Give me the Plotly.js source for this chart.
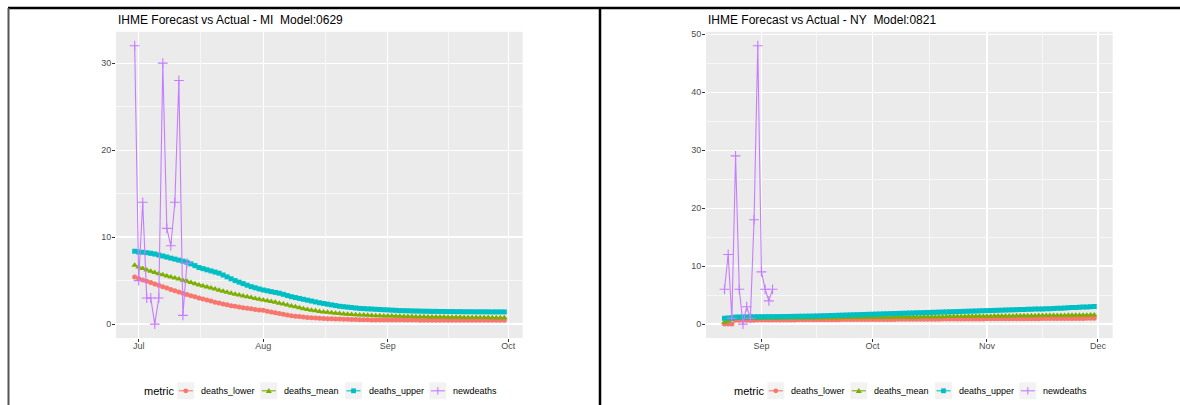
<!DOCTYPE html>
<html><head><meta charset="utf-8">
<script src="https://cdn.plot.ly/plotly-3.0.1.min.js"></script>
<style>html,body{margin:0;padding:0;background:#fff;}#chart{width:1180px;height:405px;}</style>
</head><body><div id="chart"></div>
<script>
// ---------- data ----------
const seriesNames = ['deaths_lower', 'deaths_mean', 'deaths_upper', 'newdeaths'];
const seriesColors = ['#F8766D', '#7CAE00', '#00BFC4', '#C77CFF'];
const legendTitle = 'metric';

// Michigan, model 0629 (forecast from 2020-06-30 to 2020-09-30)
const miTitle = 'IHME Forecast vs Actual - MI\u00A0\u00A0Model:0629';
const miForecastStart = '2020-06-30';
const miLower = [5.40,
  5.24,5.08,4.93,4.78,4.62,4.46,4.30,4.14,3.98,3.83,3.68,3.54,3.40,3.27,3.14,3.01,2.88,2.76,2.64,2.52,2.41,2.30,2.21,2.12,2.04,1.96,1.89,1.82,1.75,1.68,1.63,
  1.58,1.48,1.39,1.30,1.21,1.12,1.04,0.97,0.91,0.86,0.81,0.77,0.73,0.69,0.66,0.64,0.62,0.60,0.59,0.58,0.56,0.55,0.53,0.52,0.51,0.50,0.49,0.48,0.48,0.47,0.47,
  0.47,0.47,0.46,0.46,0.46,0.46,0.46,0.46,0.45,0.45,0.45,0.45,0.45,0.45,0.45,0.45,0.45,0.44,0.44,0.44,0.44,0.44,0.44,0.44,0.44,0.44,0.44,0.44,0.44,0.44];
const miMean = [6.75,
  6.55,6.38,6.22,6.06,5.92,5.79,5.66,5.54,5.42,5.30,5.17,5.05,4.92,4.78,4.64,4.50,4.38,4.26,4.14,4.03,3.90,3.77,3.65,3.54,3.44,3.34,3.24,3.14,3.05,2.95,2.86,
  2.77,2.68,2.59,2.50,2.40,2.30,2.20,2.09,1.98,1.87,1.77,1.68,1.60,1.52,1.45,1.40,1.35,1.30,1.25,1.21,1.17,1.14,1.11,1.08,1.05,1.03,1.01,0.99,0.97,0.96,0.94,
  0.93,0.92,0.90,0.89,0.88,0.87,0.86,0.85,0.84,0.83,0.82,0.81,0.81,0.80,0.80,0.79,0.79,0.78,0.78,0.77,0.77,0.76,0.76,0.75,0.75,0.75,0.74,0.74,0.73,0.73];
const miUpper = [8.36,
  8.30,8.27,8.21,8.13,8.05,7.94,7.82,7.70,7.58,7.47,7.35,7.23,7.10,6.92,6.72,6.50,6.37,6.24,6.11,5.98,5.85,5.64,5.43,5.21,5.00,4.82,4.65,4.47,4.30,4.17,4.04,
  3.92,3.83,3.73,3.64,3.55,3.42,3.28,3.15,3.05,2.95,2.85,2.75,2.65,2.55,2.45,2.37,2.29,2.21,2.13,2.05,2.00,1.95,1.90,1.85,1.80,1.78,1.75,1.73,1.70,1.68,1.65,
  1.63,1.60,1.58,1.55,1.54,1.53,1.51,1.50,1.49,1.48,1.47,1.46,1.46,1.45,1.45,1.44,1.44,1.43,1.43,1.42,1.42,1.42,1.41,1.41,1.41,1.41,1.40,1.40,1.40,1.40];
const miActualStart = '2020-06-30';
const miNewdeaths = [32, 5, 14, 3, 3, 0, 3, 30, 11, 9, 14, 28, 1, 7];
const miMonthTicks = ['2020-07-01', '2020-08-01', '2020-09-01', '2020-10-01'];
const miMonthLabels = ['Jul', 'Aug', 'Sep', 'Oct'];
const miYTicks = [0, 10, 20, 30];

// New York, model 0821 (forecast from 2020-08-22 to 2020-11-30)
const nyTitle = 'IHME Forecast vs Actual - NY\u00A0\u00A0Model:0821';
const nyForecastStart = '2020-08-22';
const nyLower = [0,0,0,0.66,0.66,0.67,0.67,0.68,0.68,0.69,
  0.69,0.70,0.70,0.70,0.71,0.71,0.71,0.72,0.72,0.72,0.73,0.73,0.73,0.74,0.74,0.74,0.75,0.75,0.75,0.76,0.76,0.76,0.77,0.77,0.77,0.78,0.78,0.78,0.79,0.79,
  0.79,0.80,0.80,0.80,0.81,0.81,0.81,0.82,0.82,0.82,0.83,0.83,0.83,0.84,0.84,0.84,0.85,0.85,0.85,0.86,0.86,0.86,0.87,0.87,0.87,0.88,0.88,0.88,0.89,0.89,0.89,
  0.90,0.90,0.90,0.91,0.91,0.91,0.92,0.92,0.92,0.93,0.93,0.93,0.94,0.94,0.94,0.95,0.95,0.95,0.96,0.96,0.96,0.97,0.97,0.97,0.98,0.98,0.98,0.99,0.99,1.00];
const nyMean = [0.30,0.55,0.80,0.96,0.97,0.97,0.98,0.98,0.99,0.99,
  1.00,1.01,1.01,1.02,1.02,1.03,1.03,1.04,1.04,1.05,1.05,1.06,1.06,1.07,1.07,1.08,1.08,1.09,1.10,1.10,1.11,1.11,1.12,1.12,1.13,1.13,1.14,1.15,1.15,1.16,
  1.16,1.17,1.17,1.18,1.19,1.19,1.20,1.20,1.21,1.22,1.22,1.23,1.24,1.24,1.25,1.26,1.26,1.27,1.28,1.28,1.29,1.30,1.30,1.31,1.32,1.32,1.33,1.34,1.34,1.35,1.36,
  1.36,1.37,1.38,1.38,1.39,1.40,1.40,1.41,1.42,1.42,1.43,1.44,1.44,1.45,1.46,1.46,1.47,1.48,1.48,1.49,1.50,1.50,1.51,1.52,1.52,1.53,1.54,1.54,1.55,1.56];
const nyUpper = [1.00,1.05,1.10,1.20,1.22,1.23,1.24,1.25,1.25,1.26,
  1.27,1.27,1.28,1.28,1.29,1.29,1.30,1.31,1.32,1.33,1.34,1.35,1.36,1.37,1.38,1.40,1.42,1.44,1.46,1.48,1.50,1.52,1.54,1.56,1.58,1.60,1.62,1.64,1.66,1.68,
  1.70,1.72,1.74,1.76,1.78,1.80,1.82,1.84,1.86,1.88,1.90,1.92,1.94,1.96,1.98,2.00,2.02,2.04,2.06,2.08,2.10,2.12,2.14,2.16,2.18,2.20,2.22,2.24,2.26,2.28,2.30,
  2.32,2.34,2.36,2.38,2.40,2.42,2.44,2.46,2.48,2.50,2.52,2.54,2.56,2.58,2.60,2.62,2.64,2.66,2.69,2.72,2.75,2.78,2.81,2.84,2.87,2.90,2.93,2.96,2.99,3.02];
const nyActualStart = '2020-08-22';
const nyNewdeaths = [6, 12, 1, 29, 6, 0, 3, 1, 18, 48, 9, 6, 4, 6];
const nyMonthTicks = ['2020-09-01', '2020-10-01', '2020-11-01', '2020-12-01'];
const nyMonthLabels = ['Sep', 'Oct', 'Nov', 'Dec'];
const nyYTicks = [0, 10, 20, 30, 40, 50];

// ---------- helpers ----------
const W = 1180, H = 405;
const fx = x => x / W;
const fy = y => 1 - y / H;
function dayList(start, n) {
  const t0 = Date.parse(start + 'T00:00:00Z');
  const out = [];
  for (let i = 0; i < n; i++) out.push(new Date(t0 + i * 86400000).toISOString().slice(0, 10));
  return out;
}
function midpoints(ticks) {
  const out = [];
  for (let i = 0; i < ticks.length - 1; i++) {
    const a = Date.parse(ticks[i] + 'T00:00:00Z'), b = Date.parse(ticks[i + 1] + 'T00:00:00Z');
    out.push(new Date((a + b) / 2).toISOString().slice(0, 19).replace('T', ' '));
  }
  return out;
}
const symbols = ['circle', 'triangle-up', 'square', 'cross-thin-open'];
const sizes = [5, 6, 5, 7];

function panelTraces(xa, ya, fStart, lower, mean, upper, aStart, actual) {
  const fx_ = dayList(fStart, lower.length);
  const ax_ = dayList(aStart, actual.length);
  const ys = [lower, mean, upper, actual];
  const xs = [fx_, fx_, fx_, ax_];
  return ys.map((y, i) => ({
    type: 'scatter', mode: 'lines+markers', x: xs[i], y: y, xaxis: xa, yaxis: ya,
    name: seriesNames[i], showlegend: false, hoverinfo: 'x+y+name',
    line: { color: seriesColors[i], width: 1.1 },
    marker: { symbol: symbols[i], size: sizes[i], color: seriesColors[i],
              line: { width: i === 3 ? 1.1 : 0, color: seriesColors[i] } }
  }));
}

const data = [].concat(
  panelTraces('x', 'y', miForecastStart, miLower, miMean, miUpper, miActualStart, miNewdeaths),
  panelTraces('x2', 'y2', nyForecastStart, nyLower, nyMean, nyUpper, nyActualStart, nyNewdeaths)
);

const tickFont = { family: 'Liberation Sans, Arial, sans-serif', size: 9, color: '#4D4D4D' };
function xAxis(domain, range, ticks, labels, anchor) {
  return {
    domain: domain, type: 'date', range: range, anchor: anchor,
    tickmode: 'array', tickvals: ticks, ticktext: labels,
    ticks: 'outside', ticklen: 3, tickwidth: 1, tickcolor: '#333333',
    ticklabelstandoff: -4,
    showgrid: true, gridcolor: '#FFFFFF', gridwidth: 1.2,
    zeroline: false, showline: false, tickfont: tickFont,
    minor: { tickmode: 'array', tickvals: midpoints(ticks), showgrid: true, gridcolor: '#FFFFFF', gridwidth: 0.6, ticks: '' }
  };
}
function yAxis(range, ticks, anchor) {
  return {
    domain: [fy(338), fy(31.8)], range: range, anchor: anchor,
    tickmode: 'array', tickvals: ticks,
    ticks: 'outside', ticklen: 3, tickwidth: 1, tickcolor: '#333333',
    ticklabelstandoff: -1,
    showgrid: true, gridcolor: '#FFFFFF', gridwidth: 1.2,
    zeroline: false, showline: false, tickfont: tickFont,
    minor: { tickmode: 'linear', tick0: 0, dtick: 5, showgrid: true, gridcolor: '#FFFFFF', gridwidth: 0.6, ticks: '' }
  };
}

// ---------- frame, titles, legends ----------
const shapes = [
  { type: 'line', xref: 'paper', yref: 'paper', x0: fx(8), x1: 1, y0: fy(8), y1: fy(8), line: { color: '#000', width: 2.5 } },
  { type: 'line', xref: 'paper', yref: 'paper', x0: fx(8.5), x1: fx(8.5), y0: fy(8), y1: 0, line: { color: '#555', width: 2 } },
  { type: 'line', xref: 'paper', yref: 'paper', x0: fx(600), x1: fx(600), y0: fy(8), y1: 0, line: { color: '#000', width: 2.5 } }
];
const annotations = [];
const textFont = { family: 'Liberation Sans, Arial, sans-serif', color: '#000' };

function addTitle(text, x) {
  annotations.push({ text: text, xref: 'paper', yref: 'paper', x: fx(x), y: fy(20), xanchor: 'left', yanchor: 'middle',
    showarrow: false, font: Object.assign({ size: 12 }, textFont) });
}
function addLegend(dx) {
  const cy = 390.8;
  annotations.push({ text: legendTitle, xref: 'paper', yref: 'paper', x: fx(141.5 + dx), y: fy(cy), xanchor: 'left', yanchor: 'middle',
    showarrow: false, font: Object.assign({ size: 11 }, textFont) });
  const keyX = [177.3, 260.3, 345, 429.3];
  keyX.forEach((k, i) => {
    const x0 = k + dx, c = seriesColors[i], mx = x0 + 8.5;
    shapes.push({ type: 'rect', xref: 'paper', yref: 'paper', x0: fx(x0), x1: fx(x0 + 17), y0: fy(cy + 8.5), y1: fy(cy - 8.5),
      fillcolor: '#F2F2F2', line: { width: 0 } });
    shapes.push({ type: 'line', xref: 'paper', yref: 'paper', x0: fx(x0 + 1.5), x1: fx(x0 + 15.5), y0: fy(cy), y1: fy(cy),
      line: { color: c, width: 1.1 } });
    if (i === 0) {
      shapes.push({ type: 'circle', xref: 'paper', yref: 'paper', x0: fx(mx - 2.4), x1: fx(mx + 2.4), y0: fy(cy + 2.4), y1: fy(cy - 2.4),
        fillcolor: c, line: { width: 0 } });
    } else if (i === 1) {
      shapes.push({ type: 'path', xref: 'paper', yref: 'paper',
        path: `M${fx(mx - 3)},${fy(cy + 2.3)} L${fx(mx + 3)},${fy(cy + 2.3)} L${fx(mx)},${fy(cy - 2.9)} Z`,
        fillcolor: c, line: { width: 0 } });
    } else if (i === 2) {
      shapes.push({ type: 'rect', xref: 'paper', yref: 'paper', x0: fx(mx - 2.4), x1: fx(mx + 2.4), y0: fy(cy + 2.4), y1: fy(cy - 2.4),
        fillcolor: c, line: { width: 0 } });
    } else {
      shapes.push({ type: 'line', xref: 'paper', yref: 'paper', x0: fx(mx), x1: fx(mx), y0: fy(cy + 3.6), y1: fy(cy - 3.6),
        line: { color: c, width: 1.1 } });
    }
    annotations.push({ text: seriesNames[i], xref: 'paper', yref: 'paper', x: fx(x0 + 21.5), y: fy(cy), xanchor: 'left', yanchor: 'middle',
      showarrow: false, font: Object.assign({ size: 9 }, textFont) });
  });
}
addTitle(miTitle, 116);
addTitle(nyTitle, 706);
addLegend(0);
addLegend(590);

const layout = {
  width: W, height: H, autosize: false,
  margin: { l: 0, r: 0, t: 0, b: 0, pad: 0 },
  paper_bgcolor: '#FFFFFF', plot_bgcolor: '#EBEBEB',
  font: { family: 'Liberation Sans, Arial, sans-serif', size: 9, color: '#4D4D4D' },
  showlegend: false,
  xaxis: xAxis([fx(116), fx(522.7)], ['2020-06-25 08:24', '2020-10-04 14:00'], miMonthTicks, miMonthLabels, 'y'),
  yaxis: yAxis([-1.6, 33.6], miYTicks, 'x'),
  xaxis2: xAxis([fx(706), fx(1112.7)], ['2020-08-17 00:00', '2020-12-05 00:00'], nyMonthTicks, nyMonthLabels, 'y2'),
  yaxis2: yAxis([-2.4, 50.4], nyYTicks, 'x2'),
  shapes: shapes, annotations: annotations
};

Plotly.newPlot('chart', data, layout, { displayModeBar: false, staticPlot: true });
</script>
</body></html>
